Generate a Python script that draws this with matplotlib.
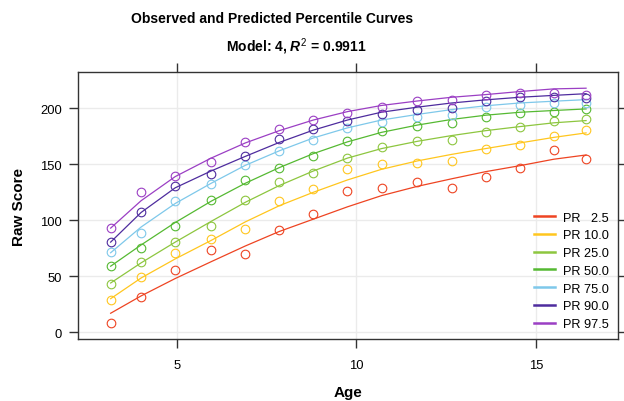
import matplotlib
matplotlib.use('Agg')
import matplotlib.pyplot as plt

# ---------------- data ----------------
ages = [3.15, 4.0, 4.95, 5.95, 6.9, 7.85, 8.8, 9.75, 10.7, 11.7, 12.65, 13.6, 14.55, 15.5, 16.4]

labels = ['PR   2.5', 'PR 10.0', 'PR 25.0', 'PR 50.0', 'PR 75.0', 'PR 90.0', 'PR 97.5']

obs_pr2_5 = [8.6, 31.2, 55.3, 73.2, 69.6, 91.6, 105.7, 126.4, 129.1, 133.9, 128.7, 138.3, 146.7, 162.8, 154.7]
obs_pr10 = [28.6, 49.4, 70.8, 83.6, 92.5, 117.5, 127.8, 145.8, 150.6, 151.0, 153.2, 163.7, 167.6, 175.6, 180.9]
obs_pr25 = [43.1, 62.5, 80.6, 94.9, 118.4, 133.9, 142.2, 155.7, 165.7, 170.7, 171.7, 178.7, 183.6, 188.7, 190.0]
obs_pr50 = [59.5, 75.6, 95.2, 118.4, 136.3, 146.7, 157.7, 170.6, 179.8, 184.5, 186.8, 192.6, 195.7, 196.8, 199.6]
obs_pr75 = [71.4, 89.0, 117.5, 132.1, 149.4, 161.6, 171.7, 182.6, 187.7, 192.3, 194.3, 201.4, 203.2, 204.7, 204.5]
obs_pr90 = [80.6, 107.7, 130.6, 141.6, 157.7, 172.6, 181.7, 189.0, 194.7, 198.8, 200.6, 206.6, 209.8, 209.8, 209.0]
obs_pr97_5 = [93.1, 125.6, 139.3, 151.8, 170.2, 181.5, 189.7, 195.8, 200.9, 206.8, 207.7, 212.2, 214.0, 213.8, 212.2]

pred_pr2_5 = [17.0, 32.5, 48.0, 63.0, 77.0, 90.0, 101.0, 112.0, 122.0, 130.3, 137.0, 143.4, 148.7, 154.5, 158.3]
pred_pr10 = [30.0, 48.5, 65.5, 82.0, 98.5, 113.0, 125.0, 136.0, 145.5, 153.0, 158.8, 164.0, 169.0, 174.0, 178.0]
pred_pr25 = [44.0, 62.0, 80.5, 99.0, 116.0, 131.0, 144.0, 155.5, 164.0, 170.5, 175.6, 180.0, 183.6, 187.0, 189.0]
pred_pr50 = [59.0, 78.0, 98.0, 117.0, 133.0, 147.0, 159.5, 170.0, 178.5, 185.0, 190.0, 193.8, 196.4, 198.0, 199.4]
pred_pr75 = [71.0, 94.0, 115.0, 133.0, 149.0, 162.0, 173.5, 182.5, 189.5, 194.5, 198.8, 202.2, 204.7, 206.3, 207.7]
pred_pr90 = [80.5, 107.0, 129.0, 144.0, 157.0, 169.5, 180.5, 189.5, 196.5, 201.0, 204.7, 207.5, 209.8, 211.5, 213.0]
pred_pr97_5 = [93.0, 117.5, 139.0, 155.5, 169.0, 180.0, 189.5, 197.0, 202.5, 206.5, 209.8, 212.2, 214.9, 217.3, 217.9]

x_ticks = [5, 10, 15]
y_ticks = [0, 50, 100, 150, 200]

observed = [obs_pr2_5, obs_pr10, obs_pr25, obs_pr50, obs_pr75, obs_pr90, obs_pr97_5]
predicted = [pred_pr2_5, pred_pr10, pred_pr25, pred_pr50, pred_pr75, pred_pr90, pred_pr97_5]
colors = ['#EE4422', '#FFC61E', '#8DC63F', '#55B932', '#7EC8EA', '#4E2C9E', '#9B3FC4']

# ---------------- style ----------------
plt.rcParams['font.family'] = ['Liberation Sans', 'DejaVu Sans']
plt.rcParams['mathtext.fontset'] = 'custom'
plt.rcParams['mathtext.it'] = 'Liberation Sans:italic:bold'
plt.rcParams['mathtext.rm'] = 'Liberation Sans'

W, H = 624, 402
fig = plt.figure(figsize=(W / 100, H / 100), dpi=100)
ax = fig.add_axes([78 / W, 1 - 340 / H, (618 - 78) / W, (340 - 73.3) / H])

for obs, pred, col, lab in zip(observed, predicted, colors, labels):
    ax.plot(ages, pred, color=col, lw=0.9, label=lab, zorder=3)
    ax.plot(ages, obs, linestyle='none', marker='o', ms=6.2, mfc='none',
            mec=col, mew=0.8, zorder=4)

ax.set_xlim(2.24, 17.29)
ax.set_ylim(-6, 232.1)
ax.set_xticks(x_ticks)
ax.set_yticks(y_ticks)
ax.grid(True, color='#EBEBEB', lw=1.0, zorder=0)
ax.set_axisbelow(True)
for s in ax.spines.values():
    s.set_color('#333333')
    s.set_linewidth(1.0)
ax.tick_params(axis='both', which='both', direction='out', length=6.5, width=1.0,
               color='#333333', top=True, right=True, labeltop=False, labelright=False,
               labelsize=9.4, pad=5)
ax.tick_params(axis='x', pad=8)

ax.set_xlabel('Age', fontsize=11, fontweight='bold', labelpad=10)
ax.set_ylabel('Raw Score', fontsize=11, fontweight='bold', labelpad=10.5)

leg = ax.legend(loc='lower right', bbox_to_anchor=(1.0, 0.0), frameon=False,
                fontsize=9.2, handlelength=1.6, handletextpad=0.65,
                labelspacing=0.45, borderaxespad=0.3)
for line in leg.get_lines():
    line.set_linewidth(1.8)

fig.text(271.7 / W, 1 - 19 / H, 'Observed and Predicted Percentile Curves',
         ha='center', va='center', fontsize=10, fontweight='bold')
fig.text(296 / W, 1 - 47 / H, r'Model: 4, $\mathit{R}^{2}$ = 0.9911',
         ha='center', va='center', fontsize=10, fontweight='bold')

fig.savefig('out.png', dpi=100)
